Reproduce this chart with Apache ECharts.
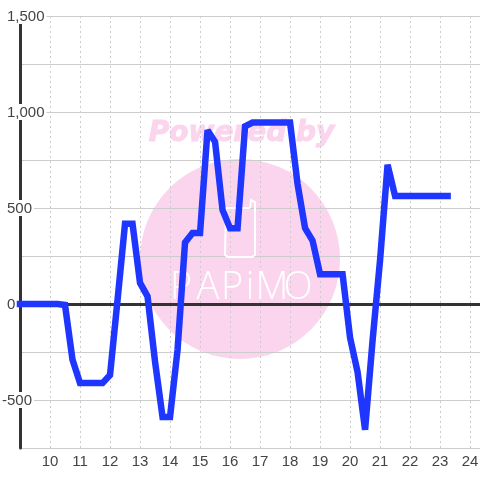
<!DOCTYPE html>
<html><head><meta charset="utf-8">
<style>html,body{margin:0;padding:0;background:#fff}#c{width:480px;height:480px}</style>
<script src="https://cdn.jsdelivr.net/npm/echarts@6/dist/echarts.min.js"></script>
</head><body><div id="c"></div>
<script>
const hours = [9,9.25,9.5,9.75,10,10.25,10.5,10.75,11,11.25,11.5,11.75,12,12.25,12.5,12.75,13,13.25,13.5,13.75,14,14.25,14.5,14.75,15,15.25,15.5,15.75,16,16.25,16.5,16.75,17,17.25,17.5,17.75,18,18.25,18.5,18.75,19,19.25,19.5,19.75,20,20.25,20.5,20.75,21,21.25,21.5,21.75,22,22.25,22.5,22.75,23,23.25];
const values = [0,0,0,0,0,0,-5,-290,-412,-412,-412,-412,-370,20,418,418,110,40,-300,-588,-588,-240,320,370,370,905,845,490,395,395,925,945,945,945,945,945,945,625,395,330,155,155,155,155,-175,-355,-655,-190,230,725,562,562,562,562,562,562,562,562];
const yTickLabels = {1500:'1,500',1000:'1,000',500:'500',0:'0'};
const negTickLabels = {'-500':'-500'};
const watermarkTop = 'Powered by';
const watermarkLetters = ['P','A','P','i','M','O'];
const letterCentres = [181,208,232,250,272,298];
const pink = '#fbd5ee';

const chart = echarts.init(document.getElementById('c'), null, {renderer:'canvas'});
const letterEls = watermarkLetters.map((ch,i)=>({
  type:'text', x:letterCentres[i], y:288, z:1,
  style:{text:ch, fill:'#fff', font:'300 38px "Open Sans", sans-serif', textAlign:'center', textVerticalAlign:'middle'}
}));
chart.setOption({
  animation:false,
  backgroundColor:'#fff',
  graphic:{z:-1, elements:[
    {type:'text', x:241.5, y:134, z:0, style:{text:watermarkTop, fill:pink, stroke:pink, lineWidth:1, font:'italic bold 28px "DejaVu Sans"', textAlign:'center', textVerticalAlign:'middle'}},
    {type:'circle', shape:{cx:240,cy:259,r:100}, z:0, style:{fill:pink}},
    {type:'polyline', z:1, shape:{points:[[250,208],[226,208],[225,255],[228,257],[252,257],[255,255],[255,202],[251,200],[250,208]]}, style:{stroke:'#fff', fill:null, lineWidth:2}},
    ...letterEls
  ]},
  grid:{left:20,right:0,top:16,bottom:32,outerBoundsMode:'none'},
  xAxis:[{
    type:'value', min:9, max:24.33, interval:1,
    axisLine:{show:false,onZero:false}, axisTick:{show:false},
    axisLabel:{color:'#444',fontSize:15,fontFamily:'Liberation Sans',margin:6,
      showMinLabel:false,showMaxLabel:false,formatter:v=>v===9?'':String(v)},
    splitLine:{show:true,showMaxLine:false,lineStyle:{color:'#ccc',type:[2,3],width:1}}
  },{
    type:'value', min:9, max:24.33, position:'top',
    axisLine:{show:true,onZero:true,lineStyle:{color:'#333',width:3}},
    axisTick:{show:false},axisLabel:{show:false},splitLine:{show:false}
  }],
  yAxis:{
    type:'value', min:-750, max:1500, interval:250,
    axisLine:{show:true,onZero:false,lineStyle:{color:'#333',width:3}},
    axisTick:{show:false},
    splitLine:{show:true,lineStyle:{color:'#ccc',width:1}},
    axisLabel:{
      align:'left', margin:18, color:'#444', fontSize:15, fontFamily:'Liberation Sans',
      backgroundColor:'#fff', padding:[2,2,0,0], lineHeight:14,
      showMinLabel:true, showMaxLabel:true,
      formatter:v=> negTickLabels[v] ? negTickLabels[v] : (yTickLabels[v] ? '{p|}'+yTickLabels[v] : ''),
      rich:{p:{width:5,height:14}}
    }
  },
  series:[{
    type:'line', xAxisIndex:0, data:hours.map((h,i)=>[h,values[i]]),
    showSymbol:false, symbol:'none', clip:false, smooth:false, z:5,
    lineStyle:{color:'#1f36ff',width:6.5,cap:'square',join:'miter',miterLimit:2}
  }]
});
</script></body></html>
